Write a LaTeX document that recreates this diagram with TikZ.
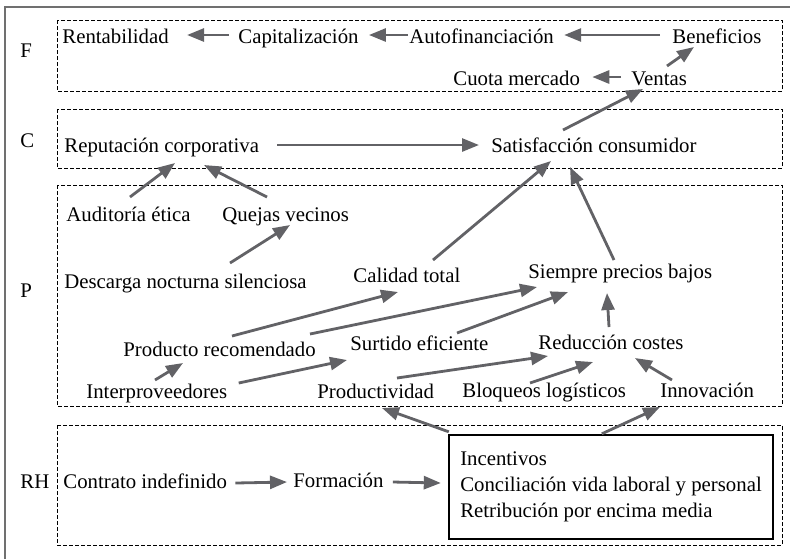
\documentclass[tikz,border=0pt]{standalone}
\usepackage{fontspec}
\setmainfont{Liberation Serif}
\usetikzlibrary{calc,arrows.meta}
\definecolor{arrgray}{RGB}{98,98,102}
\definecolor{framegray}{RGB}{112,112,112}
\def\zone(#1)(#2){\draw[zonebox] (#1) rectangle (#2);}
\tikzset{
	txt/.style={anchor=base west, inner sep=0pt, font=\fontsize{10.4}{13}\selectfont},
	arr/.style={draw=arrgray, line width=1.4pt, -{Triangle[length=8.5pt,width=6.5pt]}},
	zonebox/.style={dash pattern=on 2pt off 1pt, line width=0.5pt},
	hrbox/.style={draw, line width=1.2pt, inner sep=0pt, minimum width=162pt, minimum height=52pt, align=left, font=\fontsize{10.4}{13}\selectfont}
}
\begin{document}
\begin{tikzpicture}[x=0.5pt, y=-0.5pt]
			%%%%% FRAME %%%%%
			\useasboundingbox (0,0) rectangle (790,559);
			\draw[framegray, line width=1pt] (5,559) -- (5,7) -- (790,7);
			
			\zone(57,20)(782,91)
			\zone(57,109)(782,168)
			\zone(57,185)(782,406)
			\zone(57,425)(782,545)
			
			\node[txt] (lf) at (20,57) {F};
			\node[txt] (lc) at (20,147) {C};
			\node[txt] (lp) at (20,297) {P};
			\node[txt] (lrh) at (20,488) {RH};
			
			%%%%% F %%%%%
			\node[txt] (rent) at (62,43) {Rentabilidad};
			\node[txt] (cap) at (238,43) {Capitalización};
			\node[txt] (auto) at (409,43) {Autofinanciación};
			\node[txt] (ben) at (672,43) {Beneficios};
			\node[txt] (cuota) at (453,85) {Cuota mercado};
			\node[txt] (ventas) at (631,85) {Ventas};
			
			%%%%% C %%%%%
			\node[txt] (rep) at (64,152) {Reputación corporativa};
			\node[txt] (sat) at (491,152) {Satisfacción consumidor};
			
			%%%%% P %%%%%
			\node[txt] (aud) at (66,221) {Auditoría ética};
			\node[txt] (quej) at (222,221) {Quejas vecinos};
			\node[txt] (desc) at (64,288) {Descarga nocturna silenciosa};
			\node[txt] (cal) at (353,282) {Calidad total};
			\node[txt] (siem) at (528,278) {Siempre precios bajos};
			\node[txt] (prod) at (123,356) {Producto recomendado};
			\node[txt] (surt) at (350,350) {Surtido eficiente};
			\node[txt] (red) at (538,349) {Reducción costes};
			\node[txt] (inter) at (86,398) {Interproveedores};
			\node[txt] (produc) at (317,398) {Productividad};
			\node[txt] (bloq) at (462,397) {Bloqueos logísticos};
			\node[txt] (innov) at (660,397) {Innovación};
			
			%%%%% RH %%%%%
			\node[txt] (contr) at (63,488) {Contrato indefinido};
			\node[txt] (form) at (293,487) {Formación};
			\node[hrbox] (box) at (611,487) {Incentivos\\Conciliación vida laboral y personal\\Retribución por encima media};
			
			%%%%% ARROWS %%%%%
			\draw[arr] ($(cap.base west)+(-9,-8)$) -- ($(rent.base east)+(18,-8)$);
			\draw[arr] ($(auto.base west)+(-1,-8)$) -- ($(cap.base east)+(10,-8)$);
			\draw[arr] ($(ben.base west)+(-12,-8)$) -- ($(auto.base east)+(10,-8)$);
			\draw[arr] ($(ventas.base west)+(-10,-8)$) -- ($(cuota.base east)+(12,-8)$);
			\draw[arr] ($(ventas.base west)+(36,-19)$) -- ($(ben.base west)+(22,4)$);
			\draw[arr] ($(sat.base west)+(72,-22)$) -- ($(ventas.base west)+(12,4)$);
			\draw[arr] ($(rep.base east)+(18,-7)$) -- ($(sat.base west)+(-12,-7)$);
			
			\draw[arr] ($(aud.base west)+(64,-24)$) -- ($(rep.base west)+(111,11)$);
			\draw[arr] ($(quej.base west)+(45,-24)$) -- ($(rep.base west)+(140,13)$);
			\draw[arr] ($(desc.base west)+(166,-25)$) -- ($(quej.base west)+(68,4)$);
			\draw[arr] ($(cal.base west)+(80,-22)$) -- ($(sat.base west)+(60,9)$);
			\draw[arr] ($(siem.base west)+(86,-18)$) -- ($(sat.base west)+(79,15)$);
			
			\draw[arr] ($(prod.base west)+(109,-20)$) -- ($(cal.base west)+(45,10)$);
			\draw[arr] ($(prod.base west)+(187,-22)$) -- ($(siem.base west)+(9,9)$);
			\draw[arr] ($(surt.base west)+(107,-17)$) -- ($(siem.base west)+(40,14)$);
			\draw[arr] ($(red.base west)+(71,-22)$) -- ($(siem.base west)+(79,15)$);
			\draw[arr] ($(inter.base west)+(69,-18)$) -- ($(prod.base west)+(60,7)$);
			\draw[arr] ($(inter.base east)+(11,-15)$) -- ($(surt.base west)+(-3,10)$);
			\draw[arr] ($(produc.base west)+(80,-20)$) -- ($(red.base west)+(10,7)$);
			\draw[arr] ($(bloq.base west)+(68,-14)$) -- ($(red.base west)+(55,13)$);
			\draw[arr] ($(innov.base west)+(12,-17)$) -- ($(red.base west)+(97,9)$);
			
			\draw[arr] ($(box.north west)+(1,-2)$) -- ($(produc.base west)+(65,10)$);
			\draw[arr] ($(box.north west)+(154,0)$) -- ($(innov.base west)+(0,10)$);
			\draw[arr] ($(contr.base east)+(8,-5)$) -- ($(form.base west)+(-6,-5)$);
			\draw[arr] ($(form.base east)+(9,-5)$) -- ($(box.west)+(-7,-4)$);
			
\end{tikzpicture}
\end{document}
